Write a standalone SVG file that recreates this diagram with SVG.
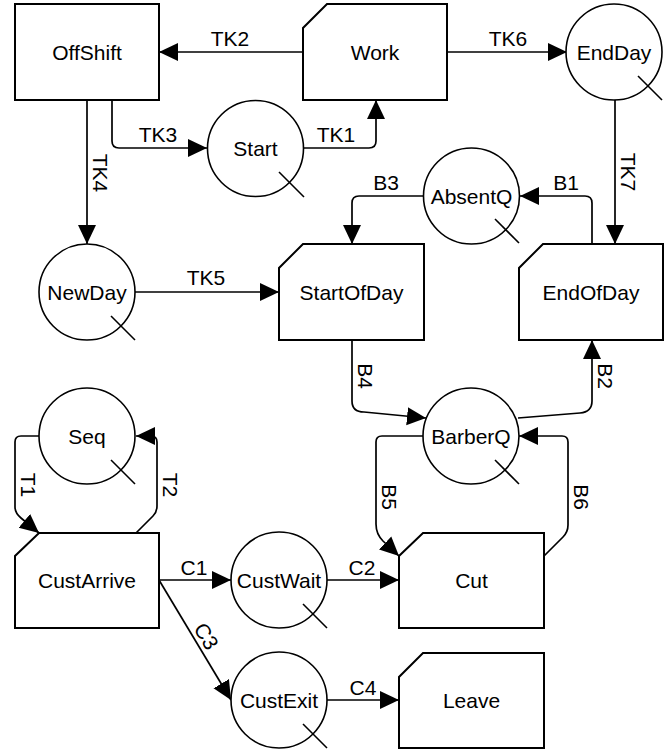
<svg xmlns="http://www.w3.org/2000/svg" width="672" height="750" viewBox="0 0 672 750">
<style>
.box{fill:#fff;stroke:#000;stroke-width:2}
.circ{fill:#fff;stroke:#000;stroke-width:1.6}
.sl{stroke:#000;stroke-width:1.6;fill:none}
.c{fill:none;stroke:#000;stroke-width:1.7;marker-end:url(#arr)}
.cn{fill:none;stroke:#000;stroke-width:1.7}
text{font-family:"Liberation Sans",Arial,sans-serif;font-size:21px;fill:#000}
.t{text-anchor:middle}
.l{text-anchor:middle}
</style>
<defs>
<marker id="arr" markerUnits="userSpaceOnUse" markerWidth="20" markerHeight="20" refX="19" refY="9" orient="auto" viewBox="0 0 20 18">
<path d="M0,0 L19,9 L0,18 z" fill="#000"/>
</marker>
</defs>
<rect width="672" height="750" fill="#fff"/>
<g id="connectors">
<path class="c" d="M303,52 H159"/>
<text class="l" x="230" y="46">TK2</text>
<path class="c" d="M447,52 H567"/>
<text class="l" x="508" y="46">TK6</text>
<path class="c" d="M112,100 V141 Q112,148 119,148 H207"/>
<text class="l" x="158" y="142">TK3</text>
<path class="c" d="M304,148 H369 Q376,148 376,141 V100"/>
<text class="l" x="336" y="142">TK1</text>
<path class="c" d="M87,100 V244"/>
<text class="l" transform="translate(93,173) rotate(90)">TK4</text>
<path class="c" d="M615,100 V244"/>
<text class="l" transform="translate(621,172) rotate(90)">TK7</text>
<path class="c" d="M592,244 V203 Q592,196 585,196 H520"/>
<text class="l" x="566" y="190">B1</text>
<path class="c" d="M423,196 H359 Q352,196 352,203 V244"/>
<text class="l" x="386" y="190">B3</text>
<path class="c" d="M135,292 H279"/>
<text class="l" x="206" y="285">TK5</text>
<path class="c" d="M352,340 V401 Q352,412 364,412 L426,418"/>
<text class="l" transform="translate(358,376) rotate(90)">B4</text>
<path class="c" d="M518,418 L580,413 Q592,412 592,401 V340"/>
<text class="l" transform="translate(598,376) rotate(90)">B2</text>
<path class="c" d="M423,436 H382 Q376,436 376,442 V524 Q376,534 383,541 L399,556"/>
<text class="l" transform="translate(382,497) rotate(90)">B5</text>
<path class="c" d="M544,556 L563,537 Q568,532 568,525 V442 Q568,436 562,436 H519"/>
<text class="l" transform="translate(574,497) rotate(90)">B6</text>
<path class="c" d="M39,436 H21 Q15,436 15,442 V507 Q15,513 21,518 L39,533"/>
<text class="l" transform="translate(21,485) rotate(90)">T1</text>
<path class="c" d="M136,533 L153,516 Q157,512 157,506 V442 Q157,436 151,436 H136"/>
<text class="l" transform="translate(163,485) rotate(90)">T2</text>
<path class="c" d="M159,580 H231"/>
<text class="l" x="194" y="575">C1</text>
<path class="c" d="M327,580 H399"/>
<text class="l" x="362" y="575">C2</text>
<path class="c" d="M159,580 L231,700"/>
<text class="l" transform="translate(200,640) rotate(59)">C3</text>
<path class="c" d="M327,700 H399"/>
<text class="l" x="363" y="695">C4</text>
</g>
<g id="OffShift">
<rect class="box" x="15" y="4" width="144" height="96"/>
<text class="t" x="87" y="59.5">OffShift</text>
</g>
<g id="Work">
<path class="box" d="M327,4 H447 V100 H303 V28 Z"/>
<text class="t" x="375" y="59.5">Work</text>
</g>
<g id="EndDay">
<circle class="circ" cx="614" cy="52" r="48"/>
<line class="sl" x1="638" y1="76" x2="662" y2="100"/>
<text class="t" x="614" y="59.5">EndDay</text>
</g>
<g id="Start">
<circle class="circ" cx="255.5" cy="148.5" r="48"/>
<line class="sl" x1="279" y1="172" x2="304" y2="197"/>
<text class="t" x="255.5" y="156">Start</text>
</g>
<g id="AbsentQ">
<circle class="circ" cx="471.5" cy="196" r="48"/>
<line class="sl" x1="495" y1="219" x2="519" y2="243"/>
<text class="t" x="471.5" y="203.5">AbsentQ</text>
</g>
<g id="NewDay">
<circle class="circ" cx="87" cy="292" r="48"/>
<line class="sl" x1="111" y1="316" x2="135" y2="340"/>
<text class="t" x="87" y="299.5">NewDay</text>
</g>
<g id="StartOfDay">
<path class="box" d="M303,244 H424 V340 H279 V268 Z"/>
<text class="t" x="351.5" y="299.5">StartOfDay</text>
</g>
<g id="EndOfDay">
<path class="box" d="M543,244 H663 V340 H519 V268 Z"/>
<text class="t" x="591" y="299.5">EndOfDay</text>
</g>
<g id="Seq">
<circle class="circ" cx="87" cy="436" r="48"/>
<line class="sl" x1="111" y1="460" x2="135" y2="484"/>
<text class="t" x="87" y="443.5">Seq</text>
</g>
<g id="BarberQ">
<circle class="circ" cx="471" cy="436" r="48"/>
<line class="sl" x1="495" y1="460" x2="519" y2="484"/>
<text class="t" x="471" y="443.5">BarberQ</text>
</g>
<g id="CustArrive">
<path class="box" d="M39,533 H159 V628 H15 V556 Z"/>
<text class="t" x="87" y="587.5">CustArrive</text>
</g>
<g id="CustWait">
<circle class="circ" cx="279" cy="580" r="48"/>
<line class="sl" x1="303" y1="604" x2="327" y2="628"/>
<text class="t" x="279" y="587.5">CustWait</text>
</g>
<g id="Cut">
<path class="box" d="M423,533 H544 V628 H399 V556 Z"/>
<text class="t" x="471.5" y="587.5">Cut</text>
</g>
<g id="CustExit">
<circle class="circ" cx="279" cy="700" r="48"/>
<line class="sl" x1="303" y1="724" x2="327" y2="748"/>
<text class="t" x="279" y="707.5">CustExit</text>
</g>
<g id="Leave">
<path class="box" d="M423,653 H544 V748 H399 V677 Z"/>
<text class="t" x="471.5" y="707.5">Leave</text>
</g>
</svg>
